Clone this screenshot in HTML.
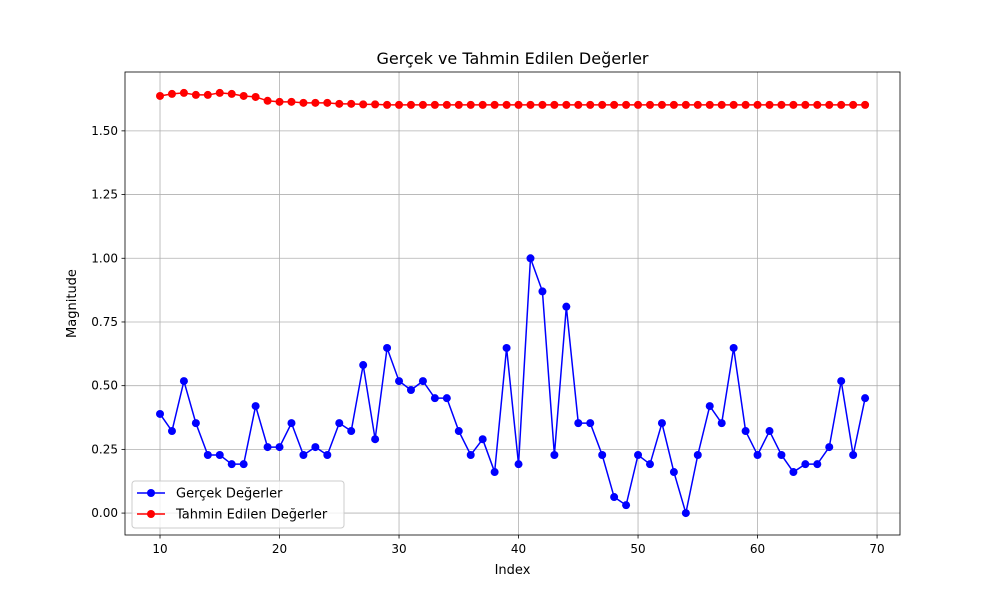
<!DOCTYPE html>
<html><head><meta charset="utf-8"><style>
body{margin:0;background:#fff;font-family:"Liberation Sans","DejaVu Sans",sans-serif}
svg text{font-family:"DejaVu Sans","Liberation Sans",sans-serif}
</style></head><body>
<svg id="c" width="1000" height="600"></svg>
<script>
const indices=[];for(let i=10;i<=69;i++)indices.push(i);
const actualValues=[0.389,0.322,0.518,0.353,0.228,0.228,0.192,0.192,0.42,0.259,0.259,0.353,0.228,0.259,0.228,0.353,0.322,0.581,0.29,0.648,0.518,0.483,0.518,0.451,0.451,0.322,0.228,0.29,0.161,0.648,0.192,1.0,0.87,0.228,0.81,0.353,0.353,0.228,0.063,0.031,0.228,0.192,0.353,0.161,0,0.228,0.42,0.353,0.648,0.322,0.228,0.322,0.228,0.161,0.192,0.192,0.259,0.518,0.228,0.451];
const predictedValues=[1.637,1.645,1.649,1.641,1.641,1.649,1.645,1.637,1.633,1.618,1.614,1.614,1.61,1.61,1.61,1.606,1.606,1.604,1.604,1.602,1.602,1.602,1.602,1.602,1.602,1.602,1.602,1.602,1.602,1.602,1.602,1.602,1.602,1.602,1.602,1.602,1.602,1.602,1.602,1.602,1.602,1.602,1.602,1.602,1.602,1.602,1.602,1.602,1.602,1.602,1.602,1.602,1.602,1.602,1.602,1.602,1.602,1.602,1.602,1.602];
const xTicks=[10,20,30,40,50,60,70];
const yTicks=[0,0.25,0.5,0.75,1.0,1.25,1.5];
const L=125,R=900,T=72,B=535,xMin=7.07,xMax=71.92,yMin=-0.086,yMax=1.731;
const sx=v=>L+(v-xMin)/(xMax-xMin)*(R-L);
const sy=v=>B-(v-yMin)/(yMax-yMin)*(B-T);
const svg=document.getElementById('c');const NS='http://www.w3.org/2000/svg';
function el(t,a,p){const e=document.createElementNS(NS,t);for(const k in a)e.setAttribute(k,a[k]);(p||svg).appendChild(e);return e;}
xTicks.forEach(v=>{const x=sx(v);
const g=el('line',{x1:x,x2:x,y1:T,y2:B,stroke:'#b0b0b0','stroke-width':0.8});

el('line',{x1:x,x2:x,y1:B,y2:B+3.5,stroke:'#000','stroke-width':0.8});
const t=el('text',{x:x,y:B+18,'text-anchor':'middle','font-size':12});t.textContent=v;
});
yTicks.forEach(v=>{const y=sy(v);
const g=el('line',{x1:L,x2:R,y1:y,y2:y,stroke:'#b0b0b0','stroke-width':0.8});

el('line',{x1:L-3.5,x2:L,y1:y,y2:y,stroke:'#000','stroke-width':0.8});
const t=el('text',{x:L-7,y:y+4,'text-anchor':'end','font-size':12});t.textContent=v.toFixed(2);
});
function series(vals,color,name){
const pts=vals.map((v,i)=>sx(indices[i])+','+sy(v)).join(' ');
const p=el('polyline',{points:pts,fill:'none',stroke:color,'stroke-width':1.5});

vals.forEach((v,i)=>{const c=el('circle',{cx:sx(indices[i]),cy:sy(v),r:4,fill:color});
});}
series(actualValues,'#0000ff','actual');
series(predictedValues,'#ff0000','predicted');
const fr=el('rect',{x:L,y:T,width:R-L,height:B-T,fill:'none',stroke:'#000','stroke-width':0.8});

const ti=el('text',{x:(L+R)/2,y:64,'text-anchor':'middle','font-size':16});ti.textContent='Gerçek ve Tahmin Edilen Değerler';

const xl=el('text',{x:(L+R)/2,y:574,'text-anchor':'middle','font-size':13});xl.textContent='Index';

const yl=el('text',{x:0,y:0,'text-anchor':'middle','font-size':13,transform:'translate(76,'+((T+B)/2)+') rotate(-90)'});yl.textContent='Magnitude';

const lg=el('g',{});
el('rect',{x:132,y:481,width:212,height:47,rx:3,fill:'#fff','fill-opacity':0.8,stroke:'#ccc'},lg);
[['Gerçek Değerler','#0000ff',493],['Tahmin Edilen Değerler','#ff0000',514]].forEach(([n,c,y])=>{
const e=el('g',{},lg);
el('line',{x1:137,x2:165,y1:y,y2:y,stroke:c,'stroke-width':1.5},e);
el('circle',{cx:151,cy:y,r:4,fill:c},e);
const t=el('text',{x:176,y:y+4.5,'font-size':13},e);t.textContent=n;});
</script></body></html>
